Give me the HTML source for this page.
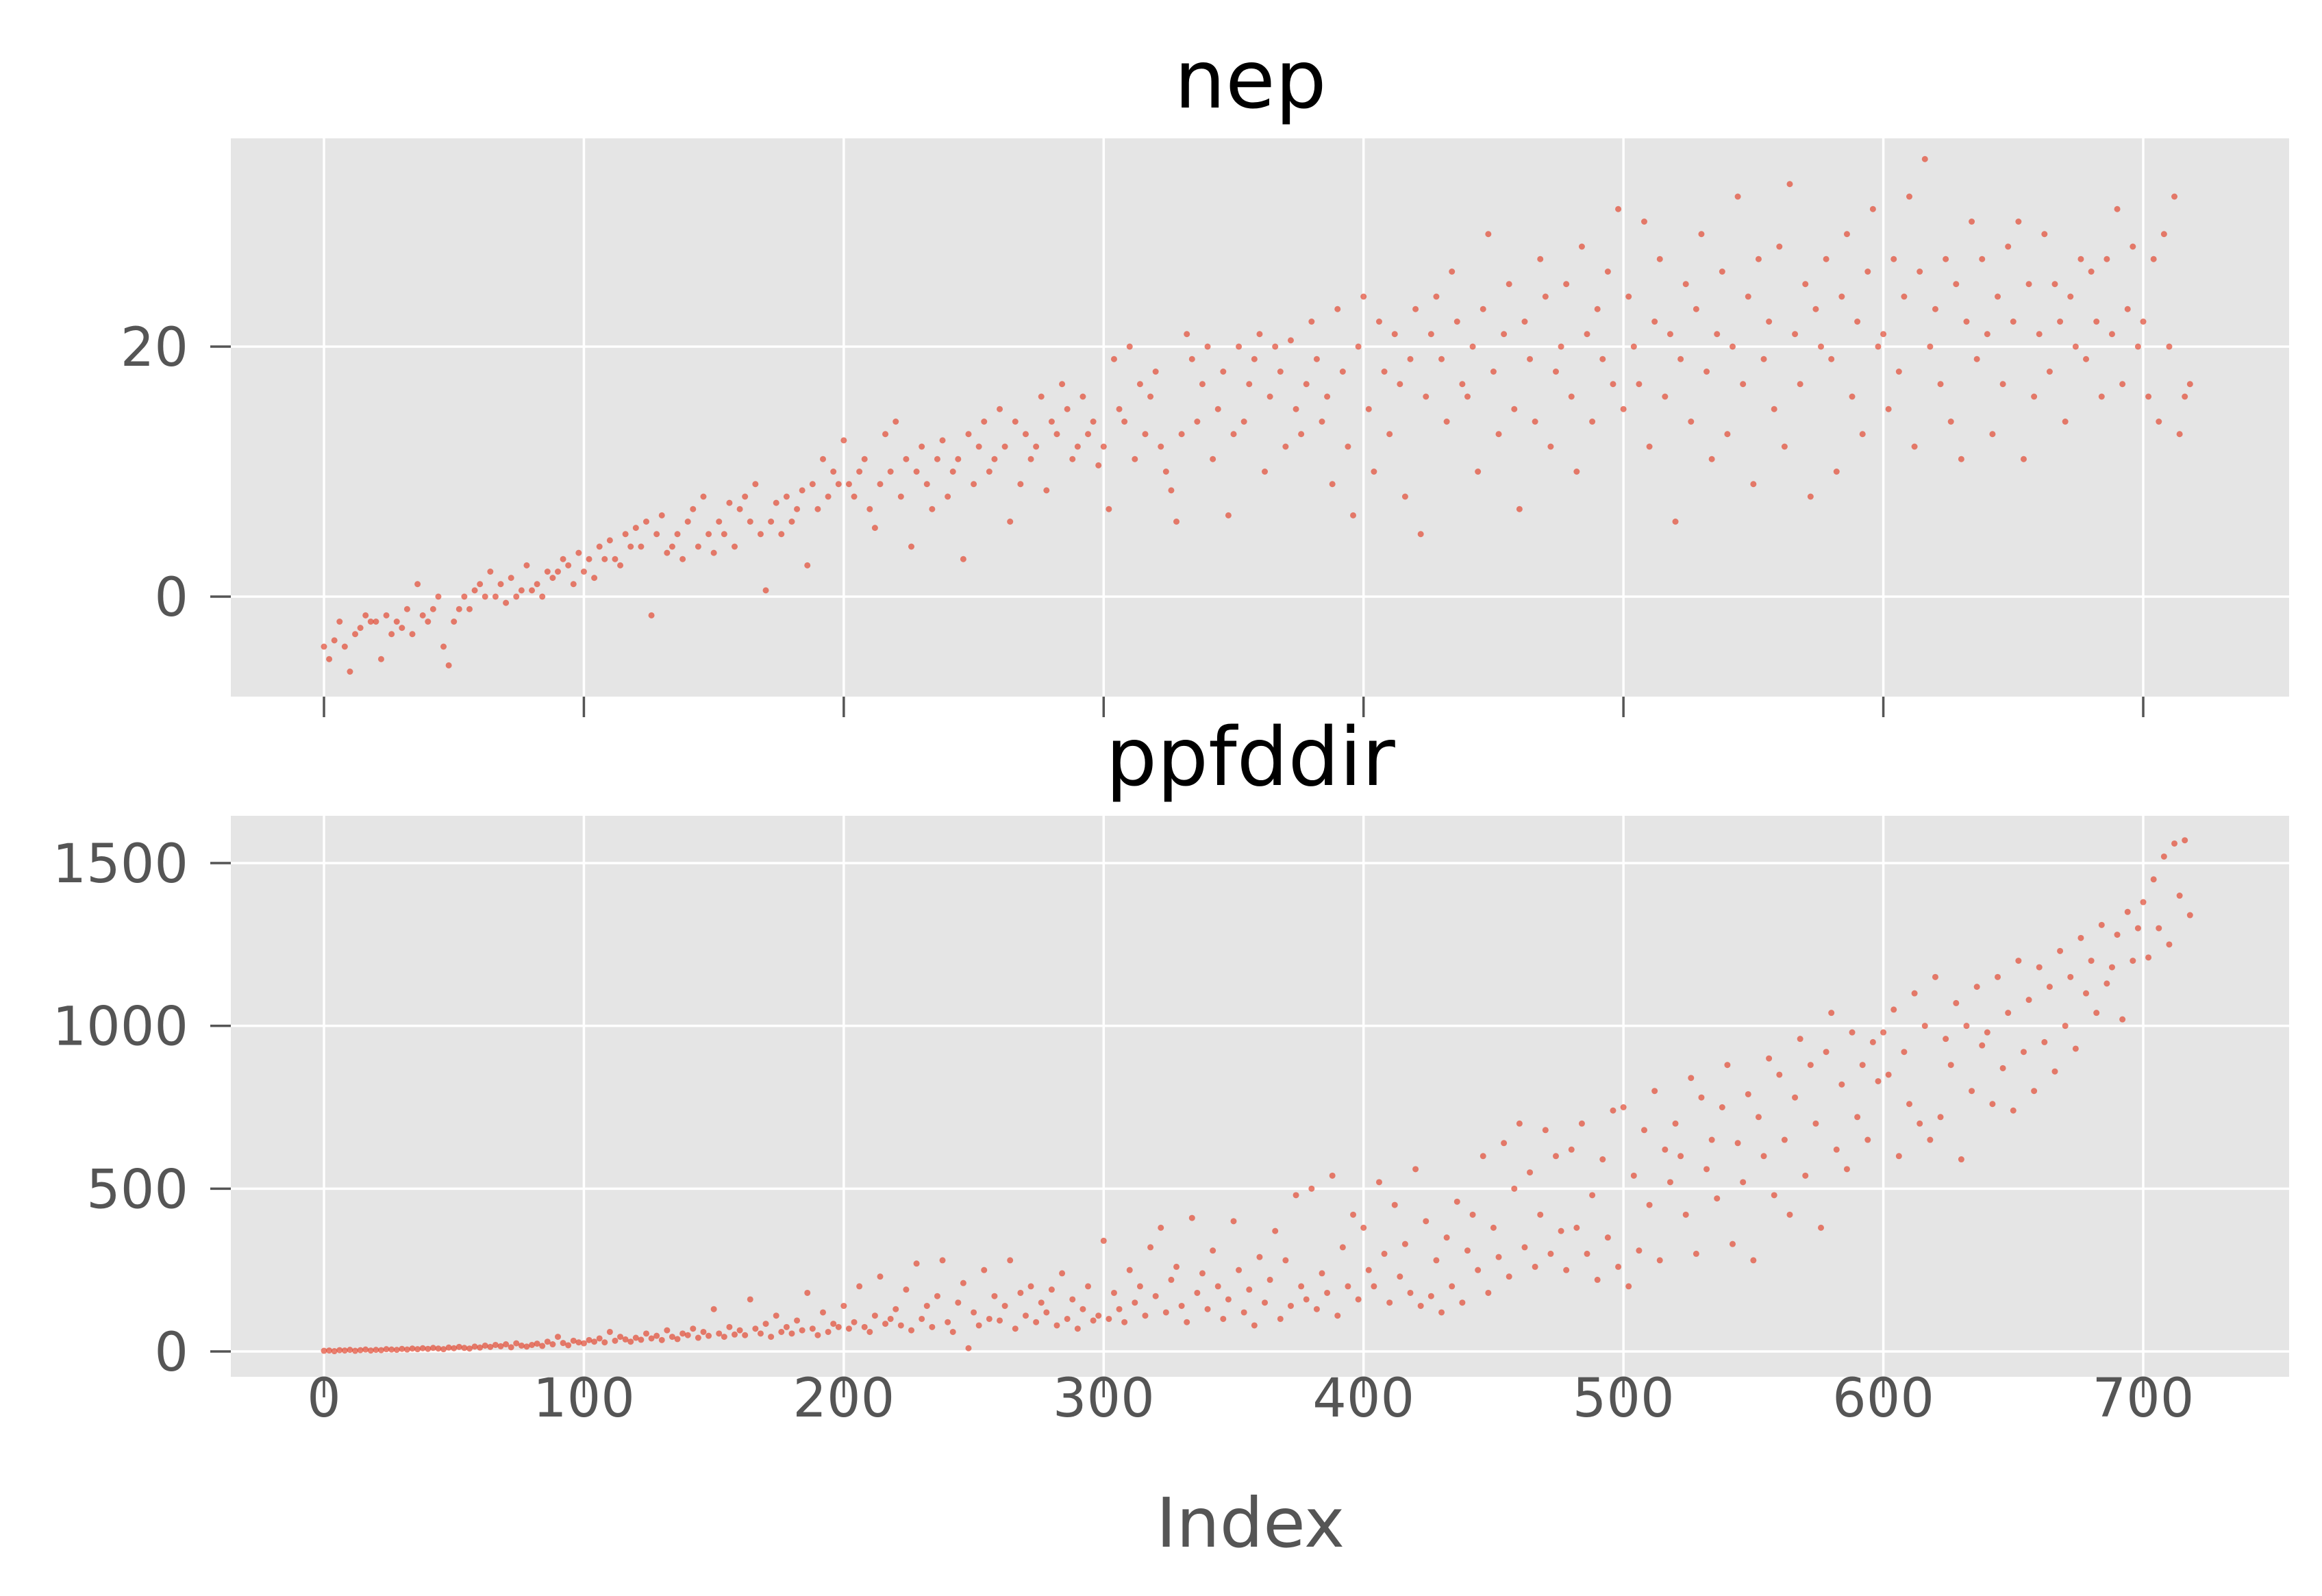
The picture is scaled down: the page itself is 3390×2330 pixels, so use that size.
<!DOCTYPE html>
<html><head><meta charset="utf-8"><style>
html,body{margin:0;padding:0;background:#fff}
svg{display:block;font-family:"DejaVu Sans","Liberation Sans",sans-serif}
</style></head><body>
<svg id="chart" width="3390" height="2330" viewBox="0 0 3390 2330" xmlns="http://www.w3.org/2000/svg"></svg>
<script>
const xTicks=[0,100,200,300,400,500,600,700];
const nepTicks=[0,20];
const ppfTicks=[0,500,1000,1500];
const step=2;
const nep=[-4,-5,-3.5,-2,-4,-6,-3,-2.5,-1.5,-2,
-2,-5,-1.5,-3,-2,-2.5,-1,-3,1,-1.5,
-2,-1,0,-4,-5.5,-2,-1,0,-1,0.5,
1,0,2,0,1,-0.5,1.5,0,0.5,2.5,
0.5,1,0,2,1.5,2,3,2.5,1,3.5,
2,3,1.5,4,3,4.5,3,2.5,5,4,
5.5,4,6,-1.5,5,6.5,3.5,4,5,3,
6,7,4,8,5,3.5,6,5,7.5,4,
7,8,6,9,5,0.5,6,7.5,5,8,
6,7,8.5,2.5,9,7,11,8,10,9,
12.5,9,8,10,11,7,5.5,9,13,10,
14,8,11,4,10,12,9,7,11,12.5,
8,10,11,3,13,9,12,14,10,11,
15,12,6,14,9,13,11,12,16,8.5,
14,13,17,15,11,12,16,13,14,10.5,
12,7,19,15,14,20,11,17,13,16,
18,12,10,8.5,6,13,21,19,14,17,
20,11,15,18,6.5,13,20,14,17,19,
21,10,16,20,18,12,20.5,15,13,17,
22,19,14,16,9,23,18,12,6.5,20,
24,15,10,22,18,13,21,17,8,19,
23,5,16,21,24,19,14,26,22,17,
16,20,10,23,29,18,13,21,25,15,
7,22,19,14,27,24,12,18,20,25,
16,10,28,21,14,23,19,26,17,31,
15,24,20,17,30,12,22,27,16,21,
6,19,25,14,23,29,18,11,21,26,
13,20,32,17,24,9,27,19,22,15,
28,12,33,21,17,25,8,23,20,27,
19,10,24,29,16,22,13,26,31,20,
21,15,27,18,24,32,12,26,35,20,
23,17,27,14,25,11,22,30,19,27,
21,13,24,17,28,22,30,11,25,16,
21,29,18,25,22,14,24,20,27,19,
26,22,16,27,21,31,17,23,28,20,
22,16,27,14,29,20,32,13,16,17];
const ppf=[2,3,1,4,3,5,2,4,6,3,
5,4,7,6,5,8,6,9,7,10,
8,11,9,7,12,10,14,11,9,15,
12,18,14,20,16,22,13,25,18,15,
20,24,17,30,22,45,26,19,33,28,
25,35,30,40,28,60,33,45,37,30,
42,36,55,40,48,35,65,45,38,55,
50,70,42,60,48,130,55,45,75,52,
65,50,160,70,55,85,45,110,60,75,
55,95,65,180,70,50,120,60,85,75,
140,70,90,200,75,60,110,230,85,100,
130,80,190,65,270,100,140,75,170,280,
90,60,150,210,10,120,80,250,100,170,
95,140,280,70,180,110,200,90,150,120,
190,80,240,100,160,70,130,200,95,110,
340,100,180,130,90,250,150,200,110,320,
170,380,120,220,260,140,90,410,180,240,
130,310,200,100,160,400,250,120,190,80,
290,150,220,370,100,280,140,480,200,160,
500,130,240,180,540,110,320,200,420,160,
380,250,200,520,300,150,450,230,330,180,
560,140,400,170,280,120,350,200,460,150,
310,420,250,600,180,380,290,640,230,500,
700,320,550,260,420,680,300,600,370,250,
620,380,700,300,480,220,590,350,740,260,
750,200,540,310,680,450,800,280,620,520,
700,600,420,840,300,780,560,650,470,750,
880,330,640,520,790,280,720,600,900,480,
850,650,420,780,960,540,880,700,380,920,
1040,620,820,560,980,720,880,650,950,830,
980,850,1050,600,920,760,1100,700,1000,650,
1150,720,960,880,1070,590,1000,800,1120,940,
980,760,1150,870,1040,740,1200,920,1080,800,
1180,950,1120,860,1230,1000,1150,930,1270,1100,
1200,1040,1310,1130,1180,1280,1020,1350,1200,1300,
1380,1210,1450,1300,1520,1250,1560,1400,1570,1340];

const NS="http://www.w3.org/2000/svg";
const svg=document.getElementById('chart');
function mk(t,a,p){const e=document.createElementNS(NS,t);for(const k in a)e.setAttribute(k,a[k]);(p||svg).appendChild(e);return e;}
const L=337,R=3342;
const xs=v=>473+(v-0)*(3129-473)/700;
const panels=[
 {name:'nep',top:202,bot:1017,y:v=>871-(v)*(871-506)/20,ticks:nepTicks,data:nep,showX:false},
 {name:'ppfddir',top:1191,bot:2010,y:v=>1973-(v)*(1973-1260)/1500,ticks:ppfTicks,data:ppf,showX:true}
];
panels.forEach(p=>{
  const g=mk('g',{});
  
  
  const bg=mk('rect',{x:L,y:p.top,width:R-L,height:p.bot-p.top,fill:'#E5E5E5'},g);
  
  
  xTicks.forEach(t=>{
    const x=xs(t);
    const gl=mk('line',{x1:x,x2:x,y1:p.top,y2:p.bot,stroke:'#fff','stroke-width':3.5},g);
    
    
    const tk=mk('line',{x1:x,x2:x,y1:p.bot,y2:p.bot+30,stroke:'#555','stroke-width':3.5},g);
    
    
    if(p.showX){
      const tl=mk('text',{x:x,y:p.bot+58,'text-anchor':'middle','font-size':78,fill:'#555'},g);
      tl.textContent=t;
      
      
    }
  });
  p.ticks.forEach(t=>{
    const y=p.y(t);
    const gl=mk('line',{x1:L,x2:R,y1:y,y2:y,stroke:'#fff','stroke-width':3.5},g);
    
    
    const tk=mk('line',{x1:L-30,x2:L,y1:y,y2:y,stroke:'#555','stroke-width':3.5},g);
    
    
    const tl=mk('text',{x:L-62,y:y+28,'text-anchor':'end','font-size':78,fill:'#555'},g);
    tl.textContent=t;
    
    
  });
  p.data.forEach((v,i)=>{
    const c=mk('circle',{cx:xs(i*step),cy:p.y(v),r:4.5,fill:'#E24A33','fill-opacity':0.7},g);
    
    
  });
  const ti=mk('text',{x:(L+R)/2-14,y:p.top-45,'text-anchor':'middle','font-size':118,fill:'#000'},g);
  ti.textContent=p.name;
  
  
});
const xl=mk('text',{x:(L+R)/2-14,y:2258,'text-anchor':'middle','font-size':100,fill:'#555'});
xl.textContent='Index';


</script>
</body></html>
